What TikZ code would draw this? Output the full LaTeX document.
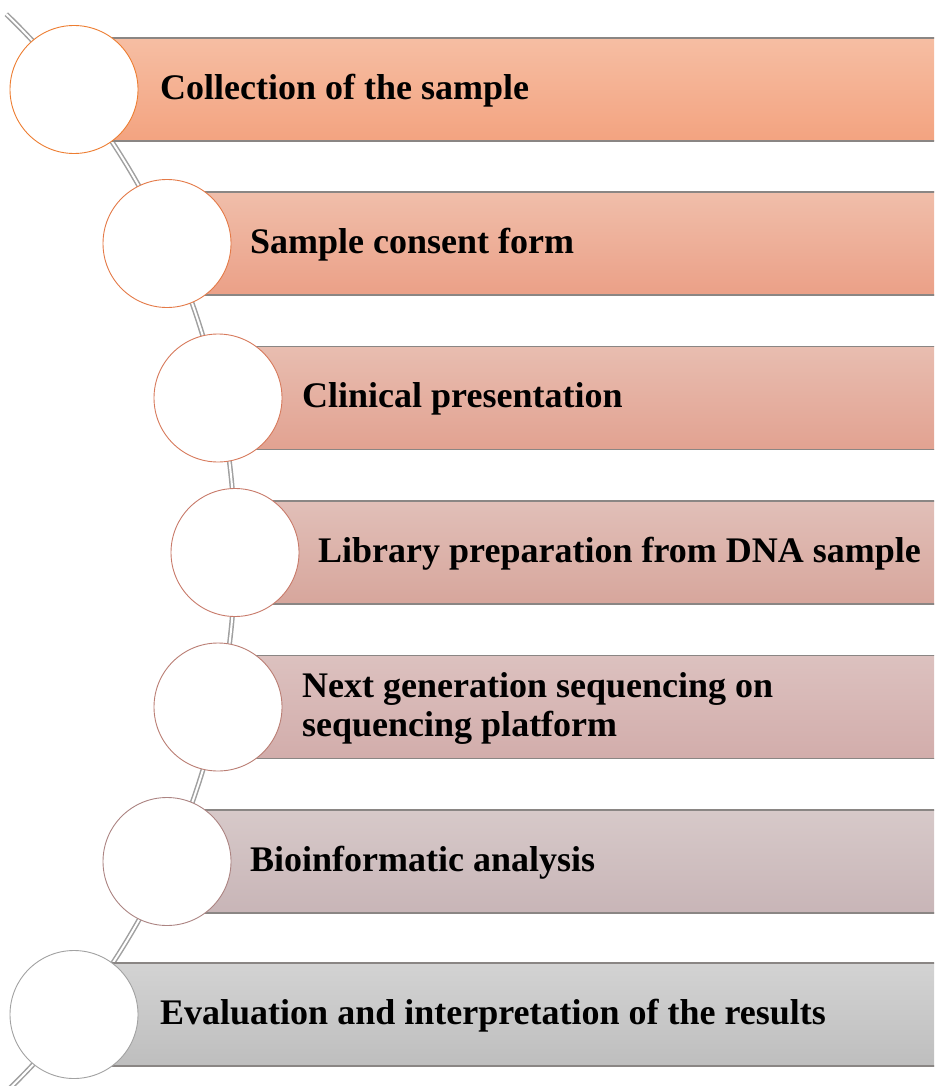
\documentclass[tikz,border=0pt]{standalone}
\usepackage{fontspec}
\setmainfont{Liberation Serif}
\usetikzlibrary{calc,positioning}
\definecolor{barline}{RGB}{138,134,132}
\definecolor{spinegray}{RGB}{160,160,160}
\definecolor{ring1}{RGB}{237,125,49}
\definecolor{ring2}{RGB}{228,122,72}
\definecolor{ring3}{RGB}{215,122,92}
\definecolor{ring4}{RGB}{200,122,106}
\definecolor{ring5}{RGB}{186,126,116}
\definecolor{ring6}{RGB}{172,132,130}
\definecolor{ring7}{RGB}{162,162,162}
\definecolor{top1}{RGB}{246,190,163}
\definecolor{bot1}{RGB}{243,163,128}
\definecolor{top2}{RGB}{240,190,170}
\definecolor{bot2}{RGB}{235,160,135}
\definecolor{top3}{RGB}{232,189,176}
\definecolor{bot3}{RGB}{226,162,145}
\definecolor{top4}{RGB}{225,191,184}
\definecolor{bot4}{RGB}{215,166,156}
\definecolor{top5}{RGB}{220,193,191}
\definecolor{bot5}{RGB}{210,173,171}
\definecolor{top6}{RGB}{215,201,201}
\definecolor{bot6}{RGB}{200,181,183}
\definecolor{top7}{RGB}{211,211,211}
\definecolor{bot7}{RGB}{190,190,190}

\begin{document}
\begin{tikzpicture}[x=1pt,y=-1pt]

\tikzset{stepbar/.style={draw=barline,line width=1.1pt,minimum width=900pt,minimum height=103pt,anchor=west,inner sep=0pt},
stepring/.style={circle,fill=white,line width=0.9pt,minimum size=128pt,inner sep=0pt},
steplabel/.style={anchor=west,inner sep=0pt,align=left,font=\fontsize{36}{39}\selectfont\bfseries},
spine/.style={draw=spinegray,line width=1.5pt,double=white,double distance=2pt}}

\clip (0,0) rectangle (934,1086);

% Spine behind the steps
\coordinate (hub) at (-514,553);
\coordinate (spinetop) at ($(hub)+(-46:749)$);
\draw[spine] (spinetop) arc[start angle=-46, end angle=47, radius=749];

% Bars and rings
\foreach \cx/\cy [count=\i] in {74/89.5, 167/243.5, 218/398, 235/552.5, 218/707, 167/861.5, 74/1014.5}
{
\node[stepbar,top color=top\i,bottom color=bot\i] (b\i) at (\cx,\cy) {};
\node[stepring,draw=ring\i] (c\i) at (\cx,\cy) {};
}

% Step labels
\node[steplabel] (t1) at ($(c1)+(86,1)$) {Collection of the sample};
\node[steplabel] (t2) at ($(c2)+(83,1)$) {Sample consent form};
\node[steplabel] (t3) at ($(c3)+(84,1)$) {Clinical presentation};
\node[steplabel] (t4) at ($(c4)+(83,1)$) {Library preparation from DNA sample};
\node[steplabel] (t5) at ($(c5)+(84,1)$) {Next generation sequencing on\\sequencing platform};
\node[steplabel] (t6) at ($(c6)+(83,1)$) {Bioinformatic analysis};
\node[steplabel] (t7) at ($(c7)+(86,1)$) {Evaluation and interpretation of the results};

\end{tikzpicture}
\end{document}
